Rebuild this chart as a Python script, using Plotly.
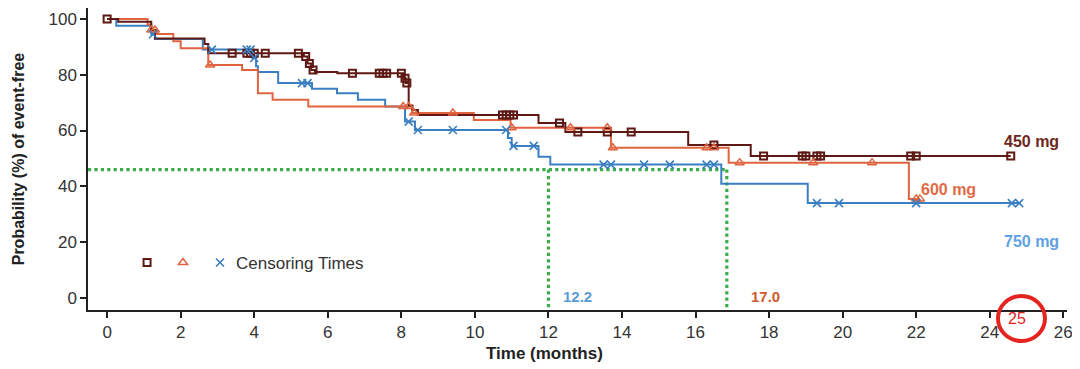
import numpy as np
import plotly.graph_objects as go

# ---------------- data ----------------
# 450 mg: step times (months) and event-free probability (%) after each step
t450 = [0, 0.3, 1.2, 1.3, 2.65, 2.75, 5.35, 5.45, 5.55, 5.65, 6.26, 8.05, 8.12, 8.2, 8.3, 8.45, 11.73, 12.46, 15.8, 17.5]
s450 = [100, 99, 96, 93, 91, 87.7, 86.5, 84, 81.7, 81, 80.5, 78.7, 77, 69, 67.4, 65.6, 62.7, 59.5, 54.8, 50.9]
end450 = 24.57
c450 = [0, 3.4, 3.8, 3.9, 4.0, 4.3, 5.2, 5.4, 5.5, 5.6, 6.67, 7.4, 7.5, 7.6, 8.0, 8.1, 8.15,
        10.75, 10.85, 10.95, 11.05, 12.3, 12.8, 13.6, 14.25, 16.5, 17.85, 18.9, 19.0, 19.3, 19.4,
        21.85, 22.0, 24.57]

# 600 mg
t600 = [0, 1.1, 1.2, 1.35, 1.8, 2.0, 2.75, 3.67, 4.1, 4.5, 5.47, 8.3, 9.97, 10.97, 13.7, 16.9, 21.8]
s600 = [100, 98, 96, 94.6, 92, 89.5, 83.5, 81.7, 73.4, 71, 68.6, 66.3, 63.8, 61, 53.8, 48.5, 35.5]
end600 = 22.1
c600 = [1.2, 1.3, 2.8, 8.05, 8.2, 8.35, 9.4, 11.0, 12.6, 13.6, 13.75, 16.3, 16.5, 17.2, 19.2,
        20.8, 22.0, 22.1]

# 750 mg
t750 = [0, 0.25, 1.2, 1.3, 2.6, 3.95, 4.05, 4.1, 4.65, 5.57, 6.25, 6.82, 7.56, 8.1, 8.37, 10.9,
        11.0, 11.73, 12.05, 16.7, 19.05]
s750 = [100, 97.5, 94.5, 92.8, 89, 86, 83, 81, 77, 75, 73.4, 71, 68.6, 63.2, 60.2, 57.3, 54.5,
        50.6, 47.8, 40.9, 34]
end750 = 24.85
c750 = [1.25, 2.85, 3.8, 3.9, 4.0, 5.3, 5.45, 8.2, 8.45, 9.4, 10.85, 11.05, 11.6, 13.5, 13.7,
        14.6, 15.3, 16.3, 16.5, 19.3, 19.9, 22.0, 24.6, 24.8]

# median reference lines (as drawn) and their labels
median_level = 46
median_x = [12.0, 16.85]
median_labels = ["12.2", "17.0"]

dose_names = ["450 mg", "600 mg", "750 mg"]
x_ticks = list(range(0, 27, 2))
y_ticks = list(range(0, 101, 20))

# ---------------- styling ----------------
DARK = "#5e1914"
ORANGE = "#e0643f"
BLUE = "#3a7fc1"
GREEN = "#3eab4c"
FONT = "Liberation Sans"
XR = [-0.52, 26.1]
YR = [-4.3, 103.9]


def surv_at(t, s, times):
    t = np.asarray(t)
    idx = np.searchsorted(t, np.asarray(times), side="right") - 1
    return np.asarray(s)[idx]


fig = go.Figure()

# green median guide lines
fig.add_trace(go.Scatter(x=[XR[0], median_x[1]], y=[median_level, median_level], mode="lines",
                         line=dict(color=GREEN, width=3.2, dash="dot"), showlegend=False,
                         hoverinfo="skip"))
for mx in median_x:
    fig.add_trace(go.Scatter(x=[mx, mx], y=[median_level, YR[0]], mode="lines",
                             line=dict(color=GREEN, width=3.2, dash="dot"), showlegend=False,
                             hoverinfo="skip"))

mk750 = dict(symbol="x-thin", size=8, line=dict(width=1.6, color=BLUE))
mk600 = dict(symbol="triangle-up-open", size=8, line=dict(width=1.5, color=ORANGE))
mk450 = dict(symbol="square-open", size=7, line=dict(width=2, color=DARK))

series = [
    (t750, s750, end750, c750, BLUE, mk750, "legend3"),
    (t600, s600, end600, c600, ORANGE, mk600, "legend2"),
    (t450, s450, end450, c450, DARK, mk450, "legend"),
]
for t, s, end, c, col, mk, lg in series:
    fig.add_trace(go.Scatter(x=list(t) + [end], y=list(s) + [s[-1]], mode="lines",
                             line=dict(color=col, width=2, shape="hv"), showlegend=False))

# censor marks (their legend keys form the "Censoring Times" key)
for t, s, end, c, col, mk, lg in [series[2], series[1], series[0]]:
    fig.add_trace(go.Scatter(x=c, y=surv_at(t, s, c), mode="markers", marker=dict(color=col, **mk),
                             name="", showlegend=True, legend=lg))

annotations = [
    dict(x=25.14, y=55.9, text="<b>" + dose_names[0] + "</b>", font=dict(color="#6e2620", size=16)),
    dict(x=22.89, y=38.7, text="<b>" + dose_names[1] + "</b>", font=dict(color="#e06a45", size=16)),
    dict(x=25.14, y=20.1, text="<b>" + dose_names[2] + "</b>", font=dict(color="#5ea2e3", size=16)),
    dict(x=12.78, y=0.4, text="<b>" + median_labels[0] + "</b>", font=dict(color="#5b9bd5", size=15)),
    dict(x=17.91, y=0.4, text="<b>" + median_labels[1] + "</b>", font=dict(color="#cf5a2e", size=15)),
]
for a in annotations:
    a.update(xref="x", yref="y", showarrow=False, xanchor="center", yanchor="middle")
    a["font"]["family"] = FONT

annotations += [
    dict(xref="paper", yref="paper", x=0.466, y=-0.1424, text="<b>Time (months)</b>", showarrow=False,
         xanchor="center", yanchor="middle", font=dict(family=FONT, size=17, color="#222")),
    dict(xref="paper", yref="paper", x=-0.0712, y=0.5, text="<b>Probability (%) of event-free</b>",
         showarrow=False, textangle=-90, xanchor="center", yanchor="middle",
         font=dict(family=FONT, size=16, color="#222")),
    dict(xref="paper", yref="paper", x=0.949, y=-0.0298, text="25", showarrow=False,
         xanchor="center", yanchor="middle", font=dict(family=FONT, size=16, color="#e5231f")),
    dict(xref="paper", yref="paper", x=0.149, y=0.1556, text="Censoring Times", showarrow=False,
         xanchor="left", yanchor="middle", font=dict(family=FONT, size=17, color="#333")),
]

leg_common = dict(orientation="h", y=0.1556, xanchor="left", yanchor="middle",
                  bgcolor="rgba(0,0,0,0)", itemwidth=30, font=dict(family=FONT, size=17))

fig.update_layout(
    width=1072, height=361,
    margin=dict(l=80, r=13, t=0, b=59),
    plot_bgcolor="white", paper_bgcolor="white",
    font=dict(family=FONT, color="#333"),
    annotations=annotations,
    shapes=[dict(type="circle", xref="paper", yref="paper", x0=0.9295, x1=0.9775,
                 y0=-0.1026, y1=0.0464, line=dict(color="#e5231f", width=4))],
    legend=dict(x=0.0399, **leg_common),
    legend2=dict(x=0.0766, **leg_common),
    legend3=dict(x=0.1144, **leg_common),
    xaxis=dict(range=XR, tickvals=x_ticks, ticks="outside", ticklen=6, tickwidth=1.5,
               tickcolor="#222", showline=True, linecolor="#222", linewidth=1.5,
               showgrid=False, zeroline=False, tickfont=dict(family=FONT, size=17, color="#333")),
    yaxis=dict(range=YR, tickvals=y_ticks, ticks="outside", ticklen=6, tickwidth=1.5,
               tickcolor="#222", showline=True, linecolor="#222", linewidth=1.5,
               showgrid=False, zeroline=False, tickfont=dict(family=FONT, size=17, color="#333")),
)

fig.write_html("out.html")
